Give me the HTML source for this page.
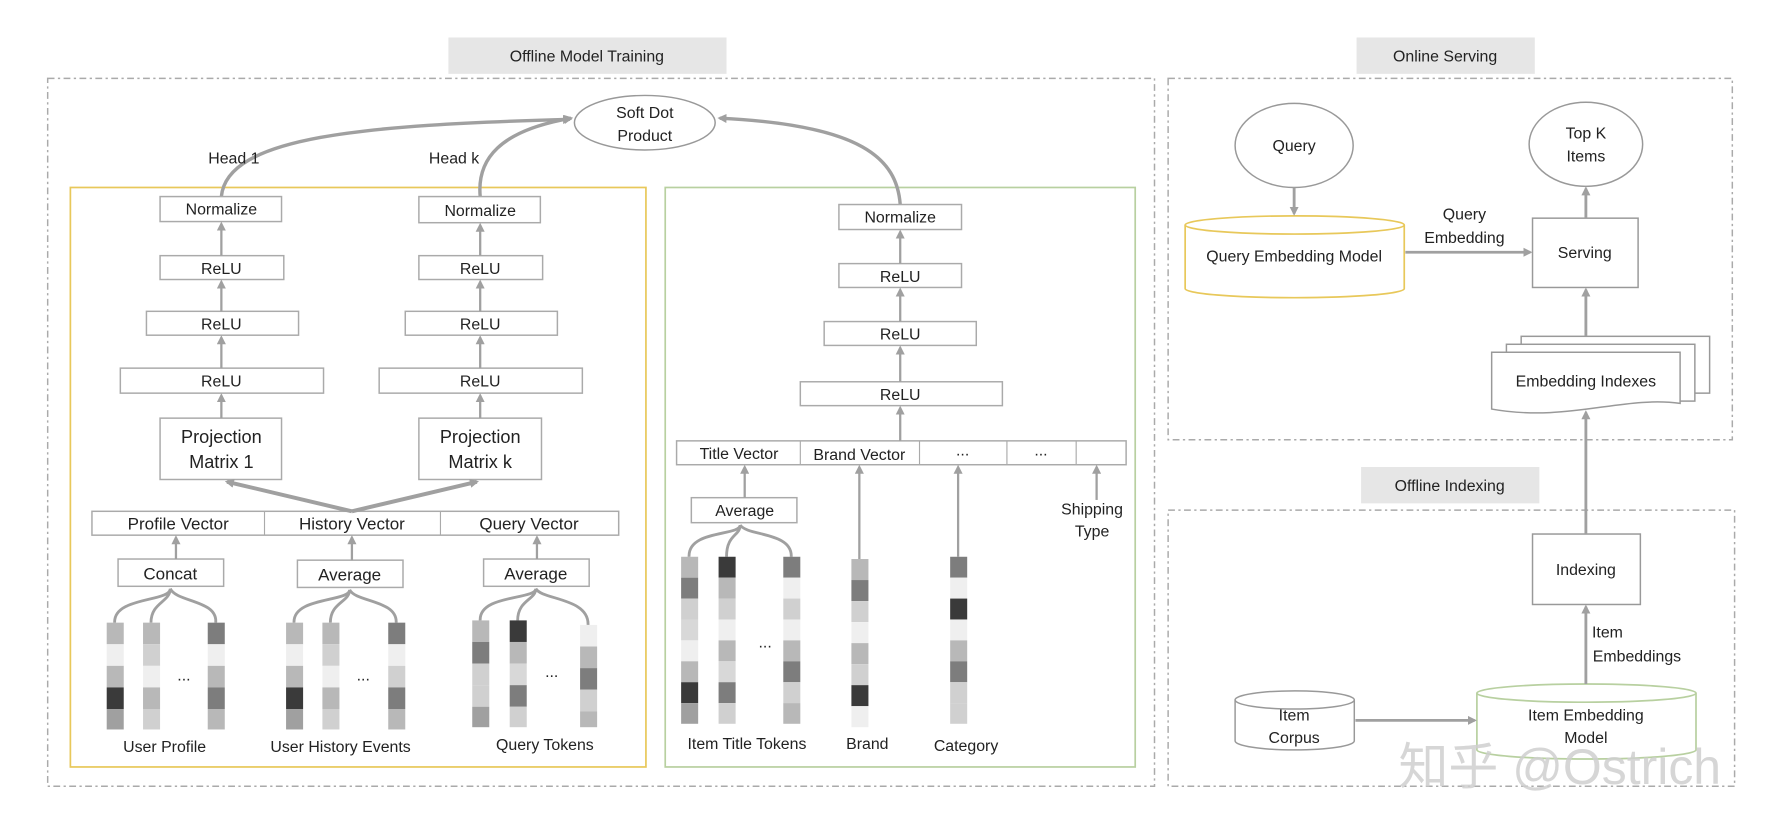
<!DOCTYPE html>
<html><head><meta charset="utf-8"><style>
html,body{margin:0;padding:0;background:#fff}
svg{display:block}
text{font-family:"Liberation Sans","Noto Sans CJK SC",sans-serif;fill:#222}
</style></head><body>
<svg width="1780" height="834" viewBox="0 0 1568 734" preserveAspectRatio="none" xmlns="http://www.w3.org/2000/svg">
<defs>
<marker id="a" markerWidth="8" markerHeight="8" refX="6" refY="4" orient="auto" markerUnits="userSpaceOnUse"><path d="M0,0 L8,4 L0,8 z" fill="#a0a0a0"/></marker>
</defs>
<g font-size="14" text-anchor="middle">
<!-- section titles -->
<rect x="395" y="33" width="245" height="32" fill="#e6e6e6"/><text x="517" y="54">Offline Model Training</text>
<rect x="1195" y="33" width="157" height="32" fill="#e6e6e6"/><text x="1273" y="54">Online Serving</text>
<rect x="1199" y="411" width="157" height="32" fill="#e6e6e6"/><text x="1277" y="432">Offline Indexing</text>
<!-- dashed frames -->
<g fill="none" stroke="#aaa" stroke-width="1.3" stroke-dasharray="6,3,2,3">
<rect x="42" y="69" width="975" height="623"/>
<rect x="1029" y="69" width="497" height="318"/>
<rect x="1029" y="449" width="499" height="243"/>
</g>
<rect x="62" y="165" width="507" height="510" fill="none" stroke="#e8c85a" stroke-width="1.5"/>
<rect x="586" y="165" width="414" height="510" fill="none" stroke="#b8d0a0" stroke-width="1.5"/>

<!-- Soft dot -->
<ellipse cx="568" cy="108" rx="62" ry="24" fill="#fff" stroke="#999" stroke-width="1.3"/>
<text x="568" y="104">Soft Dot</text><text x="568" y="124">Product</text>
<g fill="none" stroke="#a0a0a0" stroke-width="3">
<path d="M195,173 C200,120 320,110 502,105" marker-end="url(#a)"/>
<path d="M423,173 C420,140 440,115 503,104" marker-end="url(#a)"/>
<path d="M793,180 C790,140 760,110 634,104" marker-end="url(#a)"/>
</g>
<text x="206" y="144">Head 1</text><text x="400" y="144">Head k</text>

<!-- left stacks -->
<g fill="#fff" stroke="#aaa" stroke-width="1.3">
<rect x="141" y="173" width="107" height="22"/><rect x="141" y="225" width="109" height="21"/><rect x="129" y="274" width="134" height="21"/><rect x="106" y="324" width="179" height="22"/><rect x="141" y="368" width="107" height="54"/>
<rect x="369" y="173" width="107" height="23"/><rect x="369" y="225" width="109" height="21"/><rect x="357" y="274" width="134" height="21"/><rect x="334" y="324" width="179" height="22"/><rect x="369" y="368" width="108" height="54"/>
<rect x="81" y="450" width="464" height="21"/>
<rect x="104" y="492" width="93" height="24"/><rect x="262" y="493" width="93" height="24"/><rect x="426" y="492" width="93" height="24"/>
</g>
<path d="M233,450 V471 M388,450 V471" stroke="#aaa"/>
<g fill="none" stroke="#a0a0a0" stroke-width="2">
<path d="M195,225 V197" marker-end="url(#a)"/><path d="M195,274 V248" marker-end="url(#a)"/><path d="M195,324 V297" marker-end="url(#a)"/><path d="M195,368 V348" marker-end="url(#a)"/>
<path d="M423,225 V198" marker-end="url(#a)"/><path d="M423,274 V248" marker-end="url(#a)"/><path d="M423,324 V297" marker-end="url(#a)"/><path d="M423,368 V348" marker-end="url(#a)"/>
<path d="M155,492 V473" marker-end="url(#a)"/><path d="M310,493 V473" marker-end="url(#a)"/><path d="M473,492 V473" marker-end="url(#a)"/>
</g>
<g fill="none" stroke="#a0a0a0" stroke-width="3.5">
<path d="M310,450 L200,424" marker-end="url(#a)"/><path d="M310,450 L420,424" marker-end="url(#a)"/>
</g>
<text x="195" y="189">Normalize</text><text x="195" y="241">ReLU</text><text x="195" y="290">ReLU</text><text x="195" y="340">ReLU</text>
<text x="195" y="390" font-size="16">Projection</text><text x="195" y="412" font-size="16">Matrix 1</text>
<text x="423" y="190">Normalize</text><text x="423" y="241">ReLU</text><text x="423" y="290">ReLU</text><text x="423" y="340">ReLU</text>
<text x="423" y="390" font-size="16">Projection</text><text x="423" y="412" font-size="16">Matrix k</text>
<g font-size="15"><text x="157" y="466">Profile Vector</text><text x="310" y="466">History Vector</text><text x="466" y="466">Query Vector</text>
<text x="150" y="510">Concat</text><text x="308" y="511">Average</text><text x="472" y="510">Average</text></g>

<!-- fan connectors -->
<g fill="none" stroke="#a0a0a0" stroke-width="2.5">
<path d="M101,548 C100,525 150,530 150,518 M133,548 C133,530 150,530 150,518 M190,548 C192,528 155,530 150,518"/>
<path d="M259,548 C258,525 308,530 308,519 M291,548 C291,530 308,530 308,519 M349,548 C350,528 313,530 308,519"/>
<path d="M423,546 C422,523 472,528 472,518 M456,546 C456,528 472,528 472,518 M518,550 C519,526 477,528 472,518"/>
</g>
<g stroke="none">
<!-- user profile -->
<rect x="94" y="548" width="15" height="19" fill="#b8b8b8"/><rect x="94" y="567" width="15" height="19" fill="#efefef"/><rect x="94" y="586" width="15" height="19" fill="#b8b8b8"/><rect x="94" y="605" width="15" height="19" fill="#3a3a3a"/><rect x="94" y="624" width="15" height="18" fill="#a0a0a0"/>
<rect x="126" y="548" width="15" height="19" fill="#b8b8b8"/><rect x="126" y="567" width="15" height="19" fill="#d0d0d0"/><rect x="126" y="586" width="15" height="19" fill="#efefef"/><rect x="126" y="605" width="15" height="19" fill="#b8b8b8"/><rect x="126" y="624" width="15" height="18" fill="#d0d0d0"/>
<rect x="183" y="548" width="15" height="19" fill="#7d7d7d"/><rect x="183" y="567" width="15" height="19" fill="#efefef"/><rect x="183" y="586" width="15" height="19" fill="#b8b8b8"/><rect x="183" y="605" width="15" height="19" fill="#7d7d7d"/><rect x="183" y="624" width="15" height="18" fill="#b8b8b8"/>
<!-- history -->
<rect x="252" y="548" width="15" height="19" fill="#b8b8b8"/><rect x="252" y="567" width="15" height="19" fill="#efefef"/><rect x="252" y="586" width="15" height="19" fill="#b8b8b8"/><rect x="252" y="605" width="15" height="19" fill="#3a3a3a"/><rect x="252" y="624" width="15" height="18" fill="#a0a0a0"/>
<rect x="284" y="548" width="15" height="19" fill="#b8b8b8"/><rect x="284" y="567" width="15" height="19" fill="#d0d0d0"/><rect x="284" y="586" width="15" height="19" fill="#efefef"/><rect x="284" y="605" width="15" height="19" fill="#b8b8b8"/><rect x="284" y="624" width="15" height="18" fill="#d0d0d0"/>
<rect x="342" y="548" width="15" height="19" fill="#7d7d7d"/><rect x="342" y="567" width="15" height="19" fill="#efefef"/><rect x="342" y="586" width="15" height="19" fill="#d0d0d0"/><rect x="342" y="605" width="15" height="19" fill="#7d7d7d"/><rect x="342" y="624" width="15" height="18" fill="#b8b8b8"/>
<!-- query tokens -->
<rect x="416" y="546" width="15" height="19" fill="#b8b8b8"/><rect x="416" y="565" width="15" height="19" fill="#7d7d7d"/><rect x="416" y="584" width="15" height="19" fill="#d0d0d0"/><rect x="416" y="603" width="15" height="19" fill="#d0d0d0"/><rect x="416" y="622" width="15" height="18" fill="#a0a0a0"/>
<rect x="449" y="546" width="15" height="19" fill="#3a3a3a"/><rect x="449" y="565" width="15" height="19" fill="#b8b8b8"/><rect x="449" y="584" width="15" height="19" fill="#d8d8d8"/><rect x="449" y="603" width="15" height="19" fill="#7d7d7d"/><rect x="449" y="622" width="15" height="18" fill="#d0d0d0"/>
<rect x="511" y="550" width="15" height="19" fill="#efefef"/><rect x="511" y="569" width="15" height="19" fill="#b8b8b8"/><rect x="511" y="588" width="15" height="19" fill="#7d7d7d"/><rect x="511" y="607" width="15" height="19" fill="#d0d0d0"/><rect x="511" y="626" width="15" height="14" fill="#b8b8b8"/>
</g>
<text x="162" y="599">...</text><text x="320" y="599">...</text><text x="486" y="596">...</text>
<text x="145" y="662">User Profile</text><text x="300" y="662">User History Events</text><text x="480" y="660">Query Tokens</text>

<!-- green side -->
<g fill="#fff" stroke="#aaa" stroke-width="1.3">
<rect x="739" y="180" width="108" height="22"/><rect x="739" y="232" width="108" height="21"/><rect x="726" y="283" width="134" height="21"/><rect x="705" y="336" width="178" height="21"/>
<rect x="596" y="388" width="396" height="21"/><rect x="609" y="438" width="93" height="22"/>
</g>
<path d="M705,388 V409 M810,388 V409 M887,388 V409 M948,388 V409" stroke="#aaa"/>
<g fill="none" stroke="#a0a0a0" stroke-width="2">
<path d="M793,232 V204" marker-end="url(#a)"/><path d="M793,283 V255" marker-end="url(#a)"/><path d="M793,336 V306" marker-end="url(#a)"/><path d="M793,388 V359" marker-end="url(#a)"/>
<path d="M656,438 V411" marker-end="url(#a)"/><path d="M757,492 V411" marker-end="url(#a)"/><path d="M844,490 V411" marker-end="url(#a)"/><path d="M966,440 V411" marker-end="url(#a)"/>
</g>
<g fill="none" stroke="#a0a0a0" stroke-width="2.5">
<path d="M607,490 C606,466 652,472 652,462 M640,490 C640,470 652,472 652,462 M697,490 C698,468 658,472 652,462"/>
</g>
<text x="793" y="196">Normalize</text><text x="793" y="248">ReLU</text><text x="793" y="299">ReLU</text><text x="793" y="352">ReLU</text>
<text x="651" y="404">Title Vector</text><text x="757" y="405">Brand Vector</text><text x="848" y="401">...</text><text x="917" y="401">...</text>
<text x="656" y="454">Average</text>
<text x="962" y="453">Shipping</text><text x="962" y="472">Type</text>
<g stroke="none">
<rect x="600" y="490" width="15" height="18.4" fill="#b8b8b8"/><rect x="600" y="508.4" width="15" height="18.4" fill="#7d7d7d"/><rect x="600" y="526.8" width="15" height="18.4" fill="#d0d0d0"/><rect x="600" y="545.2" width="15" height="18.4" fill="#d8d8d8"/><rect x="600" y="563.6" width="15" height="18.4" fill="#efefef"/><rect x="600" y="582" width="15" height="18.4" fill="#b8b8b8"/><rect x="600" y="600.4" width="15" height="18.4" fill="#3a3a3a"/><rect x="600" y="618.8" width="15" height="18.2" fill="#a0a0a0"/>
<rect x="633" y="490" width="15" height="18.4" fill="#3a3a3a"/><rect x="633" y="508.4" width="15" height="18.4" fill="#b8b8b8"/><rect x="633" y="526.8" width="15" height="18.4" fill="#d0d0d0"/><rect x="633" y="545.2" width="15" height="18.4" fill="#efefef"/><rect x="633" y="563.6" width="15" height="18.4" fill="#b8b8b8"/><rect x="633" y="582" width="15" height="18.4" fill="#d8d8d8"/><rect x="633" y="600.4" width="15" height="18.4" fill="#7d7d7d"/><rect x="633" y="618.8" width="15" height="18.2" fill="#d0d0d0"/>
<rect x="690" y="490" width="15" height="18.4" fill="#7d7d7d"/><rect x="690" y="508.4" width="15" height="18.4" fill="#efefef"/><rect x="690" y="526.8" width="15" height="18.4" fill="#d0d0d0"/><rect x="690" y="545.2" width="15" height="18.4" fill="#efefef"/><rect x="690" y="563.6" width="15" height="18.4" fill="#b8b8b8"/><rect x="690" y="582" width="15" height="18.4" fill="#7d7d7d"/><rect x="690" y="600.4" width="15" height="18.4" fill="#d0d0d0"/><rect x="690" y="618.8" width="15" height="18.2" fill="#b8b8b8"/>
<rect x="750" y="492" width="15" height="18.5" fill="#b8b8b8"/><rect x="750" y="510.5" width="15" height="18.5" fill="#7d7d7d"/><rect x="750" y="529" width="15" height="18.5" fill="#d0d0d0"/><rect x="750" y="547.5" width="15" height="18.5" fill="#efefef"/><rect x="750" y="566" width="15" height="18.5" fill="#b8b8b8"/><rect x="750" y="584.5" width="15" height="18.5" fill="#d0d0d0"/><rect x="750" y="603" width="15" height="18.5" fill="#3a3a3a"/><rect x="750" y="621.5" width="15" height="18.5" fill="#efefef"/>
<rect x="837" y="490" width="15" height="18.4" fill="#7d7d7d"/><rect x="837" y="508.4" width="15" height="18.4" fill="#efefef"/><rect x="837" y="526.8" width="15" height="18.4" fill="#3a3a3a"/><rect x="837" y="545.2" width="15" height="18.4" fill="#efefef"/><rect x="837" y="563.6" width="15" height="18.4" fill="#b8b8b8"/><rect x="837" y="582" width="15" height="18.4" fill="#7d7d7d"/><rect x="837" y="600.4" width="15" height="18.4" fill="#d0d0d0"/><rect x="837" y="618.8" width="15" height="18.2" fill="#d0d0d0"/>
</g>
<text x="674" y="570">...</text>
<text x="658" y="659">Item Title Tokens</text><text x="764" y="659">Brand</text><text x="851" y="661">Category</text>

<!-- online serving -->
<ellipse cx="1140" cy="128" rx="52" ry="37" fill="#fff" stroke="#999" stroke-width="1.3"/><text x="1140" y="133">Query</text>
<ellipse cx="1397" cy="127" rx="50" ry="37" fill="#fff" stroke="#999" stroke-width="1.3"/><text x="1397" y="122">Top K</text><text x="1397" y="142">Items</text>
<path d="M1044,198 V254 A96.5,8 0 0 0 1237,254 V198" fill="#fff" stroke="#e8c85a" stroke-width="1.5"/>
<ellipse cx="1140.5" cy="198" rx="96.5" ry="8" fill="#fff" stroke="#e8c85a" stroke-width="1.5"/>
<text x="1140" y="230">Query Embedding Model</text>
<rect x="1350" y="192" width="93" height="61" fill="#fff" stroke="#999" stroke-width="1.3"/><text x="1396" y="227">Serving</text>
<text x="1290" y="193">Query</text><text x="1290" y="214">Embedding</text>
<g fill="#fff" stroke="#999" stroke-width="1.3">
<rect x="1340" y="296" width="166" height="50"/><rect x="1327" y="303" width="166" height="50"/>
<path d="M1314,310 H1480 V355 C1430,348 1380,372 1314,360 Z"/>
</g>
<text x="1397" y="340">Embedding Indexes</text>
<rect x="1350" y="470" width="95" height="62" fill="#fff" stroke="#999" stroke-width="1.3"/><text x="1397" y="506">Indexing</text>
<text x="1416" y="561">Item</text><text x="1442" y="582">Embeddings</text>
<path d="M1088,616 V652 A52.5,8 0 0 0 1193,652 V616" fill="#fff" stroke="#999" stroke-width="1.3"/>
<ellipse cx="1140.5" cy="616" rx="52.5" ry="8" fill="#fff" stroke="#999" stroke-width="1.3"/>
<text x="1140" y="634">Item</text><text x="1140" y="654">Corpus</text>
<path d="M1301,610 V660 A96.5,8 0 0 0 1494,660 V610" fill="#fff" stroke="#b8d0a0" stroke-width="1.5"/>
<ellipse cx="1397.5" cy="610" rx="96.5" ry="8" fill="#fff" stroke="#b8d0a0" stroke-width="1.5"/>
<text x="1397" y="634">Item Embedding</text><text x="1397" y="654">Model</text>
<g fill="none" stroke="#a0a0a0" stroke-width="2.5">
<path d="M1140,165 V188" marker-end="url(#a)"/>
<path d="M1238,222 H1348" marker-end="url(#a)"/>
<path d="M1397,192 V166" marker-end="url(#a)"/>
<path d="M1397,296 V255" marker-end="url(#a)"/>
<path d="M1397,470 V363" marker-end="url(#a)"/>
<path d="M1397,602 V534" marker-end="url(#a)"/>
<path d="M1194,634 H1299" marker-end="url(#a)"/>
</g>
<text x="1374" y="690" font-size="44" fill="#c8c8c8" style="fill:#cfcfcf;opacity:0.85">知乎 @Ostrich</text>
</g>
</svg>
</body></html>
